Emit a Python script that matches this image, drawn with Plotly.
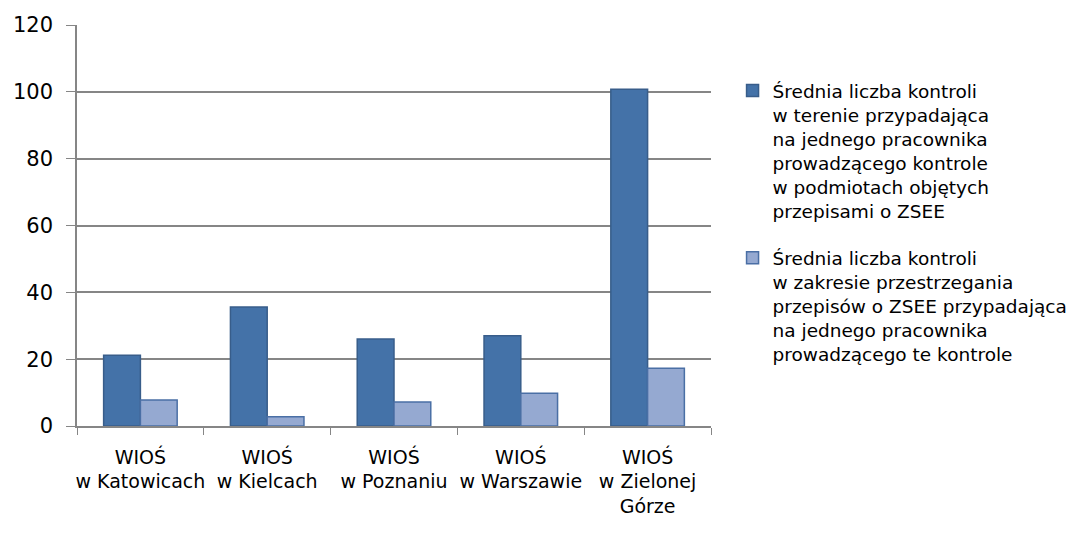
import plotly.graph_objects as go

categories = ["WIOŚ<br>w Katowicach", "WIOŚ<br>w Kielcach", "WIOŚ<br>w Poznaniu",
              "WIOŚ<br>w Warszawie", "WIOŚ<br>w Zielonej<br>Górze"]
series1_name = ("Średnia liczba kontroli<br>w terenie przypadająca<br>na jednego pracownika"
                "<br>prowadzącego kontrole<br>w podmiotach objętych<br>przepisami o ZSEE")
series2_name = ("Średnia liczba kontroli<br>w zakresie przestrzegania<br>przepisów o ZSEE przypadająca"
                "<br>na jednego pracownika<br>prowadzącego te kontrole")
series1 = [21.2, 35.6, 26.0, 27.0, 100.8]
series2 = [7.8, 2.8, 7.2, 9.8, 17.3]
y_ticks = [0, 20, 40, 60, 80, 100, 120]

FONT = "DejaVu Sans"

fig = go.Figure()
fig.add_trace(go.Bar(x=categories, y=series1, name=series1_name, legendgroup="g1",
                     marker=dict(color="#4472A8", line=dict(color="#385D8A", width=1.5))))
fig.add_trace(go.Bar(x=categories, y=series2, name=series2_name, legendgroup="g2",
                     marker=dict(color="#95A9D1", line=dict(color="#4A6FA5", width=1.5))))

fig.update_layout(
    width=1080, height=533,
    margin=dict(l=69, r=377, t=17, b=115, autoexpand=False),
    paper_bgcolor="white", plot_bgcolor="white",
    barmode="group", bargap=0.42, bargroupgap=0,
    font=dict(family=FONT, size=19, color="black"),
    showlegend=True,
    legend=dict(x=1.034, y=0.883, xanchor="left", yanchor="top",
                font=dict(family=FONT, size=18.5, color="black"),
                valign="top", tracegroupgap=20, itemwidth=30),
)
fig.update_xaxes(showline=True, linecolor="#868686", linewidth=1.5,
                 ticks="outside", tickson="boundaries", ticklen=7, tickcolor="#868686",
                 tickangle=0,
                 tickfont=dict(family=FONT, size=19), ticklabelstandoff=13, showgrid=False)
fig.update_yaxes(range=[0, 120], tickvals=y_ticks, showline=True, linecolor="#868686", linewidth=1.5,
                 ticks="outside", ticklen=9, tickcolor="#868686",
                 showgrid=True, gridcolor="#868686", gridwidth=1.5, zeroline=False,
                 tickfont=dict(family=FONT, size=21), ticklabelstandoff=9)

fig.write_html("out.html")
